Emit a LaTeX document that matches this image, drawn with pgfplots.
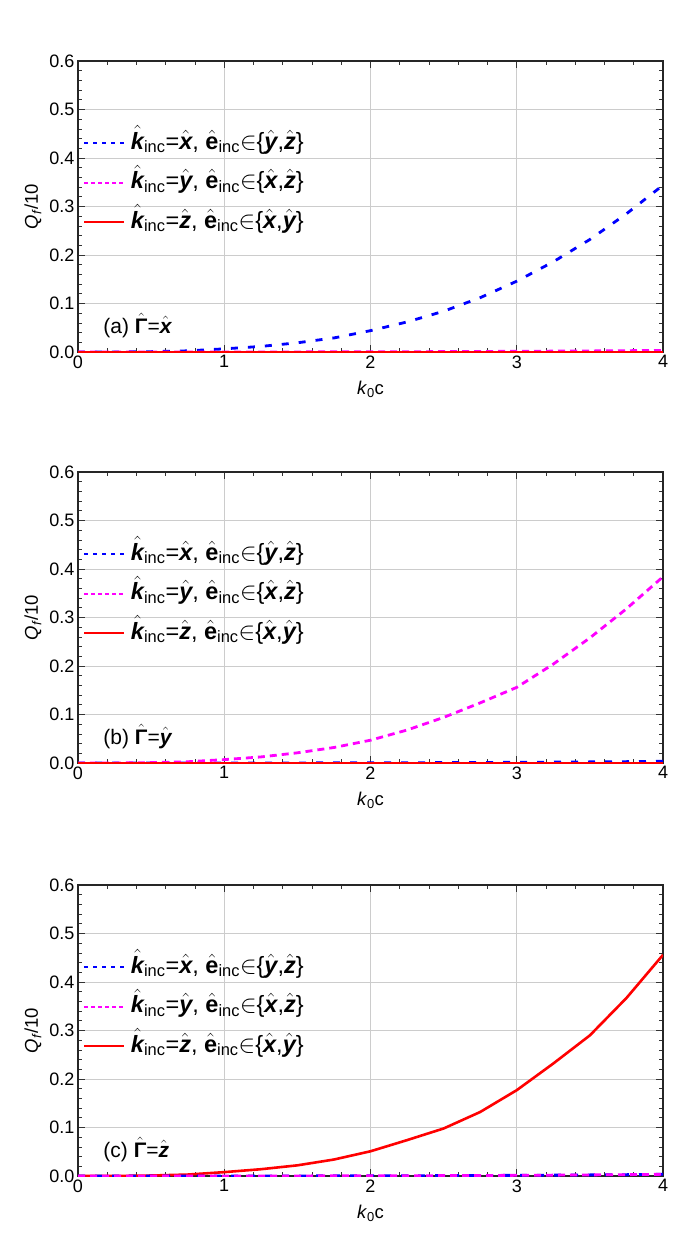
\documentclass[border=0pt]{standalone}
\usepackage{amsmath}
\usepackage{fontspec}
\setmainfont{Liberation Sans}
\usepackage{pgfplots}
\pgfplotsset{compat=1.18}
\usepackage{pgfplotstable}

\newcommand{\bi}[1]{\hat{\mbox{\bfseries\itshape #1}}}
\newcommand{\bu}[1]{\hat{\mbox{\bfseries #1}}}
\newcommand{\leg}[3]{$\bi{k}_{\text{inc}}$=$\bi{#1}$, $\bu{e}_{\text{inc}}$$\in$\{$\bi{#2}$,$\bi{#3}$\}}

\definecolor{cblue}{RGB}{0,0,255}
\definecolor{cmag}{RGB}{255,0,255}
\definecolor{cred}{RGB}{255,0,0}

\pgfplotstableread{
x b m r
0 0 0 0
0.25 0.0001 0 0
0.5 0.0007 0 0
0.75 0.0024 0 0
1 0.0065 0.0001 0
1.25 0.0115 0.0001 0
1.5 0.019 0.0002 0
1.75 0.029 0.0003 0
2 0.044 0.0004 0
2.25 0.062 0.0006 0
2.5 0.084 0.0008 0
2.75 0.112 0.0011 0
3 0.146 0.0014 0
3.25 0.186 0.0018 0
3.5 0.232 0.0022 0
3.75 0.285 0.0027 0
4 0.344 0.0033 0
}\dataA

\pgfplotstableread{
x b m r
0 0 0 0
0.25 0 0.0001 0
0.5 0 0.0008 0
0.75 0 0.0026 0
1 0.0001 0.007 0
1.25 0.0001 0.0125 0
1.5 0.0002 0.021 0
1.75 0.0003 0.032 0
2 0.0004 0.047 0
2.25 0.0006 0.068 0
2.5 0.0008 0.094 0
2.75 0.0011 0.124 0
3 0.0014 0.156 0
3.25 0.0018 0.204 0
3.5 0.0023 0.258 0
3.75 0.0028 0.318 0
4 0.0035 0.384 0
}\dataB

\pgfplotstableread{
x b m r
0 0 0 0
0.25 0 0 0.0001
0.5 0 0 0.001
0.75 0 0 0.003
1 0.0001 0.0001 0.008
1.25 0.0001 0.0001 0.014
1.5 0.0002 0.0002 0.022
1.75 0.0003 0.0003 0.034
2 0.0004 0.0004 0.051
2.25 0.0006 0.0006 0.074
2.5 0.0008 0.0008 0.098
2.75 0.0011 0.0011 0.132
3 0.0014 0.0014 0.177
3.25 0.0018 0.0018 0.232
3.5 0.0023 0.0023 0.290
3.75 0.0028 0.0028 0.367
4 0.0035 0.0035 0.456
}\dataC

\pgfplotsset{
 panel/.style={
  scale only axis, width=585pt, height=291pt,
  xmin=0, xmax=4, ymin=0, ymax=0.6,
  xtick={0,1,2,3,4}, ytick={0,0.1,0.2,0.3,0.4,0.5,0.6},
  minor x tick num=4, minor y tick num=4,
  tick align=inside, major tick length=7pt, minor tick length=4pt,
  grid=major, major grid style={black!20, line width=0.9pt},
  axis line style={line width=1.1pt, black!85},
  tick style={line width=0.7pt, black!80},
  yticklabel style={/pgf/number format/fixed, /pgf/number format/precision=1, /pgf/number format/fixed zerofill},
  ticklabel style={font=\fontsize{18}{20}\selectfont},
  /pgf/number format/assume math mode=true,
  xlabel={\textit{k}\textsubscript{0}c},
  ylabel={\textit{Q}\textsubscript{\textit{f}}/10},
  label style={font=\fontsize{18.5}{20}\selectfont},
  xlabel style={at={(axis description cs:0.5,-0.127)}, anchor=center},
  ylabel style={at={(axis description cs:-0.077,0.5)}, anchor=center},
  legend cell align=left,
  legend style={at={(0,1)}, anchor=north west, xshift=5pt, yshift=-70pt,
    draw=none, fill=none, inner sep=0pt, outer sep=0pt,
    font=\fontsize{23.5}{27}\selectfont,
    nodes={inner sep=0pt, text height=18pt, text depth=6pt},
    row sep=15.5pt, column sep=6pt},
  legend image code/.code={\draw[#1] (0pt,0pt) -- (40pt,0pt);},
 },
 bmain/.style={cblue, line width=2.8pt, dash pattern=on 7pt off 10pt},
 mmain/.style={cmag, line width=2.8pt, dash pattern=on 7pt off 5pt},
 rmain/.style={cred, line width=2.6pt},
 lb/.style={cblue, line width=1.6pt, dash pattern=on 4pt off 5pt},
 lm/.style={cmag, line width=2pt, dash pattern=on 4pt off 3pt},
 lr/.style={cred, line width=1.8pt},
}

\begin{document}
\begin{tikzpicture}
\useasboundingbox (0pt,0pt) rectangle (692pt,-1249pt);

% (a)
\begin{axis}[panel, at={(78pt,-352pt)}, anchor=south west]
\addlegendimage{lb}\addlegendentry{\leg{x}{y}{z}}
\addlegendimage{lm}\addlegendentry{\leg{y}{x}{z}}
\addlegendimage{lr}\addlegendentry{\leg{z}{x}{y}}
\addplot[bmain, forget plot] table[x=x,y=b] {\dataA};
\addplot[mmain, forget plot] table[x=x,y=m] {\dataA};
\addplot[rmain, line width=1.8pt, forget plot] table[x=x,y=r] {\dataA};
\node[anchor=west, font=\fontsize{21}{24}\selectfont] at (axis cs:0.15,0.055) {(a) $\bu{Γ}$=$\bi{x}$};
\end{axis}

% (b)
\begin{axis}[panel, at={(78pt,-763pt)}, anchor=south west]
\addlegendimage{lb}\addlegendentry{\leg{x}{y}{z}}
\addlegendimage{lm}\addlegendentry{\leg{y}{x}{z}}
\addlegendimage{lr}\addlegendentry{\leg{z}{x}{y}}
\addplot[bmain, forget plot] table[x=x,y=b] {\dataB};
\addplot[mmain, forget plot] table[x=x,y=m] {\dataB};
\addplot[rmain, line width=1.8pt, forget plot] table[x=x,y=r] {\dataB};
\node[anchor=west, font=\fontsize{21}{24}\selectfont] at (axis cs:0.15,0.055) {(b) $\bu{Γ}$=$\bi{y}$};
\end{axis}

% (c)
\begin{axis}[panel, at={(78pt,-1176pt)}, anchor=south west]
\addlegendimage{lb}\addlegendentry{\leg{x}{y}{z}}
\addlegendimage{lm}\addlegendentry{\leg{y}{x}{z}}
\addlegendimage{lr}\addlegendentry{\leg{z}{x}{y}}
\addplot[rmain, forget plot] table[x=x,y=r] {\dataC};
\addplot[bmain, forget plot] table[x=x,y=b] {\dataC};
\addplot[mmain, forget plot] table[x=x,y=m] {\dataC};
\node[anchor=west, font=\fontsize{21}{24}\selectfont] at (axis cs:0.15,0.055) {(c) $\bu{Γ}$=$\bi{z}$};
\end{axis}
\end{tikzpicture}
\end{document}
